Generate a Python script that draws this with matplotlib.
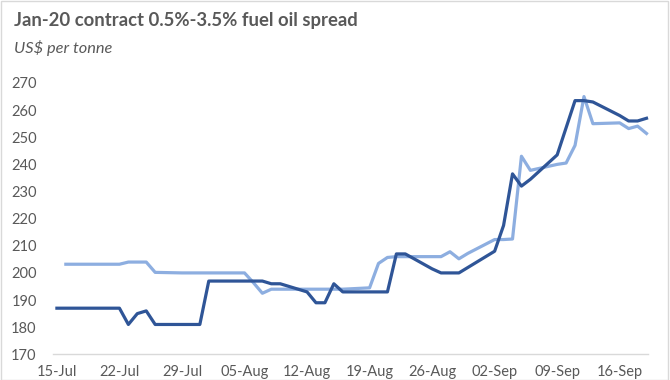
import numpy as np
import pandas as pd
import matplotlib
matplotlib.use('Agg')
from matplotlib import pyplot as plt
import matplotlib.dates as mdates
from matplotlib.patches import Rectangle

plt.rcParams['font.family'] = ['Lato', 'DejaVu Sans']

# trading days, 15-Jul-2019 to 19-Sep-2019
dates = pd.bdate_range('2019-07-15', '2019-09-19')

dark = [187, 187, 187, 187, 187,
        187, 181, 185, 186, 181,
        181, 181, 181, 197, 197,
        197, 197, 197, 196, 196,
        193, 189, 189, 196, 193,
        193, 193, 193, 207, 207,
        201.5, 200, 200, 200, 202,
        208, 217.5, 236.5, 232, 234.5,
        243.5, 253.5, 263.5, 263.5, 263,
        258, 256, 256, 257]

light = [np.nan, 203.2, 203.2, 203.2, 203.2,
         203.2, 204, 204, 204, 200.2,
         200, 200, 200, 200, 200,
         200, 196.4, 192.5, 194, 194,
         194, 194, 194, 194, 194,
         194.5, 203.5, 205.7, 206, 206,
         206, 206, 207.8, 205.2, 207.2,
         212.3, 212.3, 212.5, 243, 237.8,
         240, 240.5, 247, 265, 255,
         255.3, 253.2, 254.1, 251.4]

tick_dates = pd.date_range('2019-07-15', '2019-09-16', freq='7D')

grey = '#595959'

fig = plt.figure(figsize=(6.7, 3.8), dpi=100)
ax = fig.add_axes([0.0796, 0.0676, 0.888, 0.714])

ax.plot(dates, light, color='#8DAEE0', lw=2.3, clip_on=False, zorder=3)
ax.plot(dates, dark, color='#2F5597', lw=2.3, clip_on=False, zorder=4)

x0 = mdates.date2num(pd.Timestamp('2019-07-15'))
ax.set_xlim(x0 - 0.4, x0 + 66.2)
ax.set_ylim(170, 270)
ax.set_yticks(np.arange(170, 271, 10))
ax.set_xticks(tick_dates)
ax.xaxis.set_major_formatter(mdates.DateFormatter('%d-%b'))

for s in ['top', 'right', 'left']:
    ax.spines[s].set_visible(False)
ax.spines['bottom'].set_color('#D9D9D9')
ax.spines['bottom'].set_linewidth(1)
ax.tick_params(axis='both', length=0, labelcolor=grey, labelsize=10.5)
ax.tick_params(axis='y', pad=12)
ax.tick_params(axis='x', pad=8)

fig.text(0.021, 0.946, 'Jan-20 contract 0.5%-3.5% fuel oil spread',
         fontsize=13.3, fontweight='bold', color=grey, va='center')
fig.text(0.021, 0.874, 'US$ per tonne', fontsize=11.8, style='italic',
         color=grey, va='center')

fig.patches.append(Rectangle((0.001, 0.0), 0.996, 0.997, transform=fig.transFigure,
                             fill=False, edgecolor='#D9D9D9', lw=1))

plt.savefig('out.png', dpi=100)
